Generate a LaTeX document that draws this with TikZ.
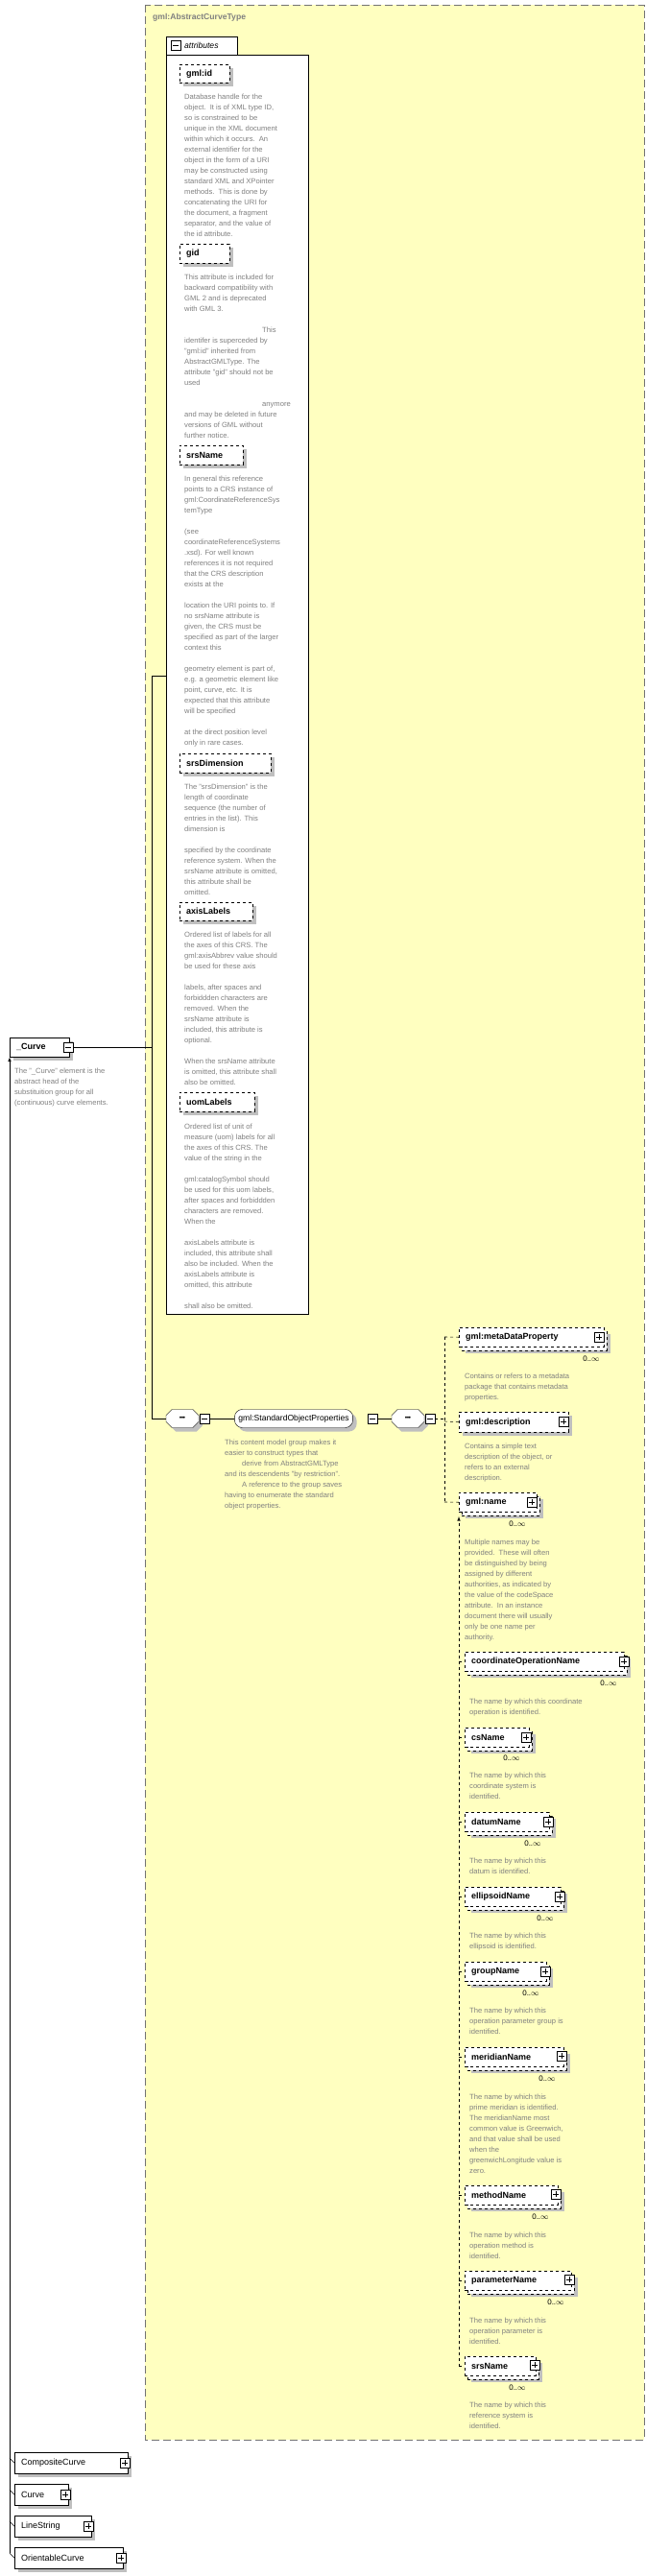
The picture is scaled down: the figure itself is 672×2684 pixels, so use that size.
\documentclass[tikz,border=0pt]{standalone}
\usepackage{fontspec}
\setmainfont{Liberation Sans}
\usetikzlibrary{shadows,shapes.misc,calc}
\definecolor{yel}{HTML}{FFFFC0}
\definecolor{dgray}{HTML}{808080}
\tikzset{
 desc/.style={anchor=north west,inner sep=0pt,align=left,text=dgray,font=\fontsize{7.6}{11}\selectfont},
 shad/.style={general shadow={shadow xshift=4pt,shadow yshift=-4pt,fill=black!25,draw=none}},
 elbox/.style={draw,fill=white,shad,anchor=north west,inner xsep=7pt,inner ysep=0pt,align=left,font=\fontsize{9}{10}\selectfont\bfseries},
 opt/.style={dashed},
 multi/.style={general shadow={shadow xshift=7pt,shadow yshift=-7pt,fill=black!25,draw=none},general shadow={shadow xshift=3pt,shadow yshift=-4pt,fill=white,draw,dashed}},
 occ/.style={inner sep=0pt,font=\fontsize{8}{10}\selectfont},
 conn/.style={line width=0.6pt},
 dconn/.style={line width=0.6pt,dashed},
}
\newcommand\pbox[1]{\draw[fill=white] ($#1+(-5,-5)$) rectangle ($#1+(5,5)$); \draw ($#1+(-3,0)$)--($#1+(3,0)$) ($#1+(0,-3)$)--($#1+(0,3)$);}
\newcommand\minbox[1]{\draw[fill=white] ($#1+(-5,-5)$) rectangle ($#1+(5,5)$); \draw ($#1+(-3,0)$)--($#1+(3,0)$);}
\newcommand\elem[7]{\node[elbox,#7,text width=\dimexpr#4pt-14pt\relax,minimum height=#5pt] (#1) at (#2,#3) {#6};}
\newcommand\seqdots{\fontsize{7}{7}\selectfont\textbullet\kern-0.5pt\textbullet\kern-0.5pt\textbullet}
\begin{document}
\begin{tikzpicture}[x=1pt,y=-1pt]
\useasboundingbox (0,0) rectangle (672,2684);
% type container
\draw[dashed,dash pattern=on 8pt off 4pt,draw=black!55,fill=yel] (151,5) rectangle (671,2542);
\node[anchor=north west,inner sep=0pt,text=dgray,font=\fontsize{8.6}{10}\selectfont\bfseries] (tt) at (159,14) {gml:AbstractCurveType};
% attributes box
\draw[fill=white] (173,57) rectangle (321,1369);
\draw[fill=white] (173,38) rectangle (247,57);
\node[anchor=west,inner sep=0pt,font=\fontsize{8.6}{10}\selectfont\itshape] (attr) at (192,47) {attributes};
\minbox{(183,47)}
% attributes
\elem{aid}{187}{67}{52}{19}{gml:id}{opt}
\node[desc] (daid) at (192,98) {Database handle for the\\object.\ \ It is of XML type ID,\\so is constrained to be\\unique in the XML document\\within which it occurs.\ \ An\\external identifier for the\\object in the form of a URI\\may be constructed using\\standard XML and XPointer\\methods.\ \ This is done by\\concatenating the URI for\\the document, a fragment\\separator, and the value of\\the id attribute.};
\elem{agid}{187}{254}{52}{20}{gid}{opt}
\node[desc] (dgid) at (192,286) {This attribute is included for\\backward compatibility with\\GML 2 and is deprecated\\with GML 3.\\~\\\hspace*{81pt}This\\identifer is superceded by\\"gml:id" inherited from\\AbstractGMLType. The\\attribute "gid" should not be\\used\\~\\\hspace*{81pt}anymore\\and may be deleted in future\\versions of GML without\\further notice.};
\elem{asrs}{187}{464}{66}{20}{srsName}{opt}
\node[desc] (dsrs) at (192,496) {In general this reference\\points to a CRS instance of\\gml:CoordinateReferenceSys\\temType\\~\\(see\\coordinateReferenceSystems\\.xsd). For well known\\references it is not required\\that the CRS description\\exists at the\\~\\location the URI points to. If\\no srsName attribute is\\given, the CRS must be\\specified as part of the larger\\context this\\~\\geometry element is part of,\\e.g. a geometric element like\\point, curve, etc. It is\\expected that this attribute\\will be specified\\~\\at the direct position level\\only in rare cases.};
\elem{adim}{187}{785}{95}{20}{srsDimension}{opt}
\node[desc] (ddim) at (192,817) {The "srsDimension" is the\\length of coordinate\\sequence (the number of\\entries in the list). This\\dimension is\\~\\specified by the coordinate\\reference system. When the\\srsName attribute is omitted,\\this attribute shall be\\omitted.};
\elem{aaxis}{187}{940}{76}{19}{axisLabels}{opt}
\node[desc] (daxis) at (192,971) {Ordered list of labels for all\\the axes of this CRS. The\\gml:axisAbbrev value should\\be used for these axis\\~\\labels, after spaces and\\forbiddden characters are\\removed. When the\\srsName attribute is\\included, this attribute is\\optional.\\~\\When the srsName attribute\\is omitted, this attribute shall\\also be omitted.};
\elem{auom}{187}{1138}{78}{20}{uomLabels}{opt}
\node[desc] (duom) at (192,1171) {Ordered list of unit of\\measure (uom) labels for all\\the axes of this CRS. The\\value of the string in the\\~\\gml:catalogSymbol should\\be used for this uom labels,\\after spaces and forbiddden\\characters are removed.\\When the\\~\\axisLabels attribute is\\included, this attribute shall\\also be included. When the\\axisLabels attribute is\\omitted, this attribute\\~\\shall also be omitted.};
% _Curve
\elem{curve}{10}{1081}{62}{20}{\_Curve}{}
\minbox{(71,1091)}
\node[desc] (dcurve) at (15,1113) {The "\_Curve" element is the\\abstract head of the\\substituition group for all\\(continuous) curve elements.};
\coordinate (j) at (158,1091);
\draw[conn] (76,1091) -- (j);
\draw[conn] (173,704) -| (158,1478);
% sequence
\node[chamfered rectangle,chamfered rectangle xsep=3pt,draw,fill=white,shad,minimum width=34pt,minimum height=19pt,inner sep=1pt] (seq1) at (190,1478) {\seqdots};
\minbox{(213,1478)}
\draw[conn] (158,1478) -- (seq1.west);
\node[rounded corners=8pt,draw,fill=white,shad,minimum height=19pt,inner xsep=4pt,font=\fontsize{8.6}{10}\selectfont] (grp) at (306,1478) {gml:StandardObjectProperties};
\draw[conn] (218,1478) -- (grp.west);
\minbox{(388,1478)}
\node[desc] (dgrp) at (234,1500) {This content model group makes it\\easier to construct types that\\\hspace*{18pt}derive from AbstractGMLType\\and its descendents "by restriction".\\\hspace*{18pt}A reference to the group saves\\having to enumerate the standard\\object properties.};
\node[chamfered rectangle,chamfered rectangle xsep=3pt,draw,fill=white,shad,minimum width=34pt,minimum height=19pt,inner sep=1pt] (seq2) at (425,1478) {\seqdots};
\draw[conn] (393,1478) -- (seq2.west);
\minbox{(448,1478)}
% choice
\elem{meta}{478}{1383}{151}{20}{gml:metaDataProperty}{opt,multi}
\pbox{(624,1393)}
\node[occ] (ometa) at (616,1416) {0..$\infty$};
\node[desc] (dmeta) at (484,1431) {Contains or refers to a metadata\\package that contains metadata\\properties.};
\elem{descr}{478}{1471}{114}{21}{gml:description}{opt}
\pbox{(587,1481)}
\node[desc] (ddescr) at (484,1504) {Contains a simple text\\description of the object, or\\refers to an external\\description.};
\elem{name}{478}{1555}{81}{20}{gml:name}{opt,multi}
\pbox{(554,1565)}
\node[occ] (oname) at (539,1588) {0..$\infty$};
\node[desc] (dname) at (484,1604) {Multiple names may be\\provided.\ \ These will often\\be distinguished by being\\assigned by different\\authorities, as indicated by\\the value of the codeSpace\\attribute.\ \ In an instance\\document there will usually\\only be one name per\\authority.};
\draw[dconn] (453,1478) -- (463,1478);
\draw[dconn] (463,1393) -- (463,1565);
\draw[dconn] (463,1393) -- (meta.west);
\draw[dconn] (463,1481) -- (descr.west);
\draw[dconn] (463,1565) -- (name.west);
% substitution members
\elem{cop}{484}{1721}{166}{20}{coordinateOperationName}{opt,multi}
\pbox{(650,1731)}
\node[occ] (ocop) at (634,1754) {0..$\infty$};
\node[desc] (dcop) at (489,1770) {The name by which this coordinate\\operation is identified.};
\elem{cs}{484}{1800}{67}{20}{csName}{opt,multi}
\pbox{(548,1810)}
\node[occ] (ocs) at (533,1832) {0..$\infty$};
\node[desc] (dcs) at (489,1847) {The name by which this\\coordinate system is\\identified.};
\elem{datum}{484}{1888}{88}{20}{datumName}{opt,multi}
\pbox{(571,1898)}
\node[occ] (odatum) at (555,1921) {0..$\infty$};
\node[desc] (ddatum) at (489,1936) {The name by which this\\datum is identified.};
\elem{ell}{484}{1966}{100}{20}{ellipsoidName}{opt,multi}
\pbox{(583,1976)}
\node[occ] (oell) at (568,1999) {0..$\infty$};
\node[desc] (dell) at (489,2014) {The name by which this\\ellipsoid is identified.};
\elem{grpn}{484}{2044}{85}{20}{groupName}{opt,multi}
\pbox{(568,2054)}
\node[occ] (ogrpn) at (553,2077) {0..$\infty$};
\node[desc] (dgrpn) at (489,2092) {The name by which this\\operation parameter group is\\identified.};
\elem{mer}{484}{2133}{103}{20}{meridianName}{opt,multi}
\pbox{(585,2142)}
\node[occ] (omer) at (570,2166) {0..$\infty$};
\node[desc] (dmer) at (489,2182) {The name by which this\\prime meridian is identified.\\The meridianName most\\common value is Greenwich,\\and that value shall be used\\when the\\greenwichLongitude value is\\zero.};
\elem{meth}{484}{2277}{97}{20}{methodName}{opt,multi}
\pbox{(579,2286)}
\node[occ] (ometh) at (563,2310) {0..$\infty$};
\node[desc] (dmeth) at (489,2326) {The name by which this\\operation method is\\identified.};
\elem{par}{484}{2366}{111}{20}{parameterName}{opt,multi}
\pbox{(593,2375)}
\node[occ] (opar) at (579,2399) {0..$\infty$};
\node[desc] (dpar) at (489,2415) {The name by which this\\operation parameter is\\identified.};
\elem{ssrs}{484}{2455}{74}{20}{srsName}{opt,multi}
\pbox{(557,2464)}
\node[occ] (ossrs) at (539,2488) {0..$\infty$};
\node[desc] (dssrs) at (489,2503) {The name by which this\\reference system is\\identified.};
\coordinate (sub) at (478,1580);
\draw[dconn,-latex] (478,2466) -- (sub);
\foreach \n in {cop,cs,datum,ell,grpn,mer,meth,par,ssrs}{\draw[dconn] (\n.west) ++(-6,0) -- (\n.west);}
% substitution group of _Curve
\elem{cc}{15}{2555}{118}{22}{CompositeCurve}{font=\fontsize{9}{10}\selectfont}
\pbox{(130,2566)}
\elem{cv}{15}{2588}{56}{22}{Curve}{font=\fontsize{9}{10}\selectfont}
\pbox{(68,2599)}
\elem{ls}{15}{2621}{80}{22}{LineString}{font=\fontsize{9}{10}\selectfont}
\pbox{(92,2632)}
\elem{oc}{15}{2654}{113}{22}{OrientableCurve}{font=\fontsize{9}{10}\selectfont}
\pbox{(126,2665)}
\draw[conn,-latex] (10,2660) -- (curve.south west);
\foreach \n in {cc,cv,ls,oc}{\draw[conn] (\n.west) ++(-5,-5) -- (\n.west);}
\end{tikzpicture}
\end{document}
